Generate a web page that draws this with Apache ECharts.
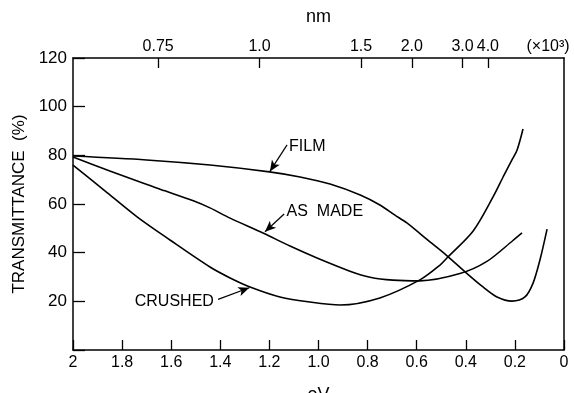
<!DOCTYPE html>
<html><head><meta charset="utf-8">
<script src="https://cdn.jsdelivr.net/npm/echarts@6/dist/echarts.min.js"></script>
<style>html,body{margin:0;padding:0;background:#fff}#c{width:574px;height:393px}</style>
</head><body><div id="c"></div>
<script>
// photon energy (eV) and transmittance (%)
const filmEV = [2.0, 1.70, 1.442, 1.20, 1.075, 0.953, 0.83, 0.75, 0.69, 0.64, 0.546, 0.505, 0.473, 0.403, 0.33, 0.273, 0.212, 0.159, 0.126, 0.098, 0.069];
const filmT  = [79.7, 78.1, 76.0, 73.2, 71.1, 68.2, 63.7, 59.6, 55.5, 52.2, 44.4, 41.1, 38.4, 32.1, 25.9, 21.8, 20.1, 21.8, 27.5, 37.0, 49.7];
const madeEV = [2.0, 1.85, 1.727, 1.625, 1.51, 1.442, 1.36, 1.226, 1.116, 1.006, 0.872, 0.79, 0.697, 0.587, 0.424, 0.314, 0.208, 0.171];
const madeT  = [79.3, 73.6, 69.0, 65.4, 61.3, 58.4, 54.2, 48.1, 42.7, 37.8, 32.4, 29.9, 28.7, 28.4, 31.4, 36.4, 45.0, 48.1];
const crushEV = [2.0, 1.87, 1.739, 1.605, 1.442, 1.36, 1.279, 1.157, 1.035, 0.912, 0.75, 0.587, 0.505, 0.473, 0.37, 0.289, 0.248, 0.212, 0.191, 0.167];
const crushT  = [76.0, 65.4, 54.7, 45.2, 34.1, 29.6, 25.9, 21.8, 19.7, 18.5, 21.4, 28.8, 34.9, 38.2, 48.9, 62.9, 71.1, 78.1, 82.2, 90.8];
// top axis: wavelength (x10^3 nm)
const nmValues = [0.75, 1.0, 1.5, 2.0, 3.0, 4.0];
const nmLabels = ['0.75', '1.0', '1.5', '2.0', '3.0', '4.0'];
const yTicks = [20, 40, 60, 80, 100, 120];

const nmEV = nmValues.map(v => 1.24 / v);
const FONT = 'Liberation Sans, Arial, sans-serif';
const pairs = (xs, ys) => xs.map((x, i) => [x, ys[i]]);
const arrow = (a, b) => [{coord: a}, {coord: b}];
const ax = () => ({color: '#000', width: 1.5});
const tk = () => ({color: '#000', width: 1.3});
const lineStyle = () => ({color: '#000', width: 1.6});

const chart = echarts.init(document.getElementById('c'));
chart.setOption({
  animation: false,
  backgroundColor: '#fff',
  grid: {left: 73, right: 10, top: 58, bottom: 43, containLabel: false, outerBoundsMode: 'none'},
  textStyle: {fontFamily: FONT, color: '#000'},
  xAxis: [{
    type: 'value', min: 0, max: 2, interval: 0.2, inverse: true, position: 'bottom',
    name: 'eV', nameLocation: 'middle', nameGap: 36,
    nameTextStyle: {fontSize: 18, color: '#000', fontFamily: FONT},
    axisLine: {show: true, onZero: false, lineStyle: ax()},
    axisTick: {show: true, inside: true, length: 10, lineStyle: tk()},
    axisLabel: {fontSize: 16, color: '#000', margin: 5, fontFamily: FONT,
      formatter: v => (Math.abs(v - 2) < 1e-6 ? '2' : Math.abs(v) < 1e-6 ? '0' : v.toFixed(1))},
    splitLine: {show: false}
  }, {
    type: 'value', min: 0, max: 2, inverse: true, position: 'top',
    name: 'nm', nameLocation: 'middle', nameGap: 32,
    nameTextStyle: {fontSize: 18, color: '#000', fontFamily: FONT},
    axisLine: {show: true, onZero: false, lineStyle: ax()},
    axisTick: {show: true, inside: true, length: 10, customValues: nmEV, lineStyle: tk()},
    axisLabel: {fontSize: 16, color: '#000', margin: 3, fontFamily: FONT,
      customValues: nmEV.concat([0.065]),
      formatter: v => {
        if (v < 0.1) return '(\u00d710\u00b3)';
        let best = 0;
        nmEV.forEach((e, i) => { if (Math.abs(e - v) < Math.abs(nmEV[best] - v)) best = i; });
        return nmLabels[best];
      }},
    splitLine: {show: false}
  }],
  yAxis: [{
    type: 'value', min: 0, max: 120, interval: 20, position: 'left',
    name: 'TRANSMITTANCE  (%)', nameLocation: 'middle', nameGap: 44,
    nameTextStyle: {fontSize: 17, color: '#000', fontFamily: FONT},
    axisLine: {show: true, onZero: false, lineStyle: ax()},
    axisTick: {show: true, inside: true, length: 12, lineStyle: tk()},
    axisLabel: {fontSize: 17, color: '#000', margin: 6, fontFamily: FONT,
      formatter: v => (yTicks.indexOf(v) >= 0 ? String(v) : '')},
    splitLine: {show: false}
  }, {
    type: 'value', min: 0, max: 120, position: 'right',
    axisLine: {show: true, onZero: false, lineStyle: ax()},
    axisTick: {show: false}, axisLabel: {show: false}, splitLine: {show: false}
  }],
  series: [{
    name: 'FILM', type: 'line', smooth: 0.3, symbol: 'none', data: pairs(filmEV, filmT), lineStyle: lineStyle(),
    markLine: {silent: true, symbol: ['none', 'arrow'], symbolSize: [7, 11],
      lineStyle: {color: '#000', width: 1.2, type: 'solid'}, label: {show: false},
      data: [arrow([1.128, 84.3], [1.198, 73.4])]},
    markPoint: {symbolSize: 0, data: [{coord: [1.124, 83.6],
      label: {show: true, formatter: 'FILM', position: 'right', distance: 1, fontSize: 16, color: '#000', fontFamily: FONT}}]}
  }, {
    name: 'AS MADE', type: 'line', smooth: 0.3, symbol: 'none', data: pairs(madeEV, madeT), lineStyle: lineStyle(),
    markLine: {silent: true, symbol: ['none', 'arrow'], symbolSize: [7, 11],
      lineStyle: {color: '#000', width: 1.2, type: 'solid'}, label: {show: false},
      data: [arrow([1.14, 55.9], [1.218, 48.6])]},
    markPoint: {symbolSize: 0, data: [{coord: [1.134, 56.8],
      label: {show: true, formatter: 'AS  MADE', position: 'right', distance: 1, fontSize: 16, color: '#000', fontFamily: FONT}}]}
  }, {
    name: 'CRUSHED', type: 'line', smooth: 0.3, symbol: 'none', data: pairs(crushEV, crushT), lineStyle: lineStyle(),
    markLine: {silent: true, symbol: ['none', 'arrow'], symbolSize: [7, 11],
      lineStyle: {color: '#000', width: 1.2, type: 'solid'}, label: {show: false},
      data: [arrow([1.409, 20.8], [1.282, 25.6])]},
    markPoint: {symbolSize: 0, data: [{coord: [1.418, 20.0],
      label: {show: true, formatter: 'CRUSHED', position: 'left', distance: 2, fontSize: 16, color: '#000', fontFamily: FONT}}]}
  }]
});
</script></body></html>
